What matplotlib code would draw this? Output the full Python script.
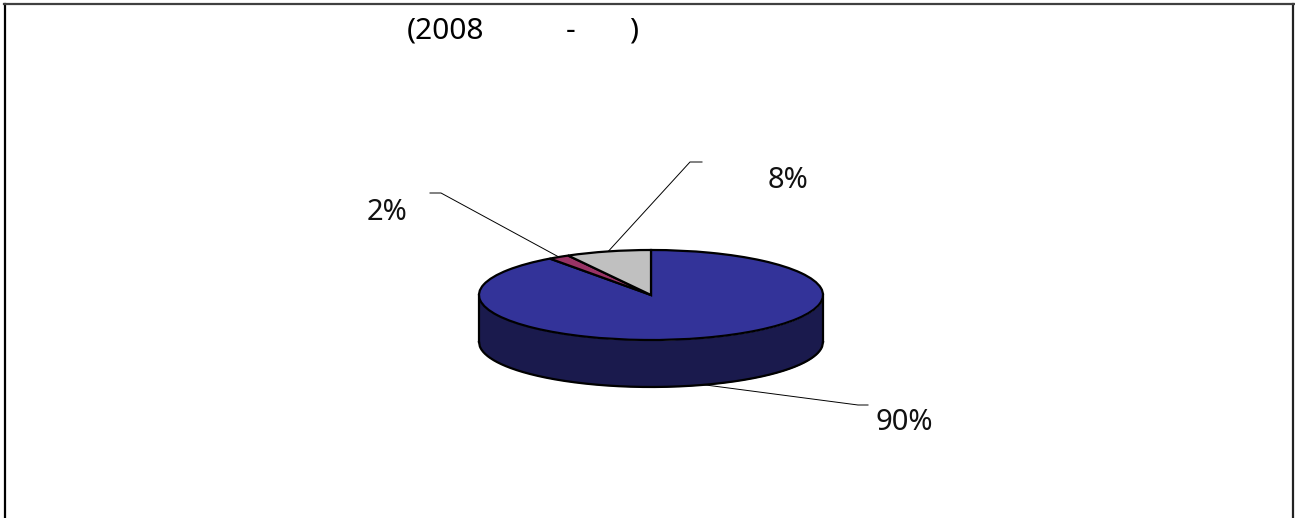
import numpy as np
import matplotlib
matplotlib.use("Agg")
import matplotlib.pyplot as plt
from matplotlib.lines import Line2D

# Data
shares = [90, 2, 8]
colors = ["#333399", "#993366", "#C0C0C0"]
wall_color = "#1A1A4D"
title_parts = ["(2008", "-", ")"]

W, H = 1295, 518
plt.rcParams["font.family"] = ["Noto Sans", "DejaVu Sans"]

# Pie geometry in pixels
cx, cy = 651, 295
rx, ry = 172, 45
depth = 47

fig = plt.figure(figsize=(W / 100, H / 100), dpi=100)
ax = fig.add_axes([0, 0, 1, 1])


def px(x, y):
    # pixel position -> pie units
    return (x - cx) / rx, (cy - y) / ry


wedges, _ = ax.pie(shares, colors=colors, startangle=90, counterclock=False, radius=1,
                   wedgeprops={"edgecolor": "black", "linewidth": 1.6, "zorder": 3})

# Squash the pie by giving x and y different scales
ax.set_aspect("auto")
ax.set_xlim(px(0, 0)[0], px(W, 0)[0])
ax.set_ylim(px(0, H)[1], px(0, 0)[1])
ax.axis("off")

# Side wall
xs = np.linspace(-1, 1, 400)
top = -np.sqrt(1 - xs ** 2)
d = depth / ry
ax.fill_between(xs, top, top - d, color=wall_color, lw=0, zorder=1)
ax.plot(xs, top - d, color="black", lw=1.6, zorder=2)
ax.plot([-1, -1], [0, -d], color="black", lw=1.6, zorder=2)
ax.plot([1, 1], [0, -d], color="black", lw=1.6, zorder=2)

# Leader lines start on the rim at the middle of each slice
elbows = [((858, 405), (868, 405)), ((441, 193), (430, 193)), ((690, 162), (702, 162))]
text_pos = [(904, 422), (387, 212), (788, 181)]
cum = 0
for share, (e1, e2), (tx, ty) in zip(shares, elbows, text_pos):
    ang = np.radians((cum + share / 2) * 3.6)
    cum += share
    sx, sy = np.sin(ang), np.cos(ang)
    if sy < 0:
        sy -= d
    ax.plot([sx, px(*e1)[0], px(*e2)[0]], [sy, px(*e1)[1], px(*e2)[1]],
            color="black", lw=0.7, zorder=0.5)
    ax.text(*px(tx, ty), f"{share}%", fontsize=21, ha="center", va="center", color="#111111")

# Title, the gaps are part of the original
for part, tx in zip(title_parts, [446, 571, 634]):
    ax.text(*px(tx, 31), part, fontsize=21.5, fontweight="medium", ha="center", va="center",
            color="black")

# Frame, open at the bottom
fig.add_artist(Line2D([5 / W, 5 / W], [0, 1 - 4 / H], color="black", lw=1.6))
fig.add_artist(Line2D([1293 / W, 1293 / W], [0, 1 - 4 / H], color="#222222", lw=1.6))
fig.add_artist(Line2D([4 / W, 1294 / W], [1 - 4 / H, 1 - 4 / H], color="#404040", lw=1.6))

fig.savefig("out.png", dpi=100)
